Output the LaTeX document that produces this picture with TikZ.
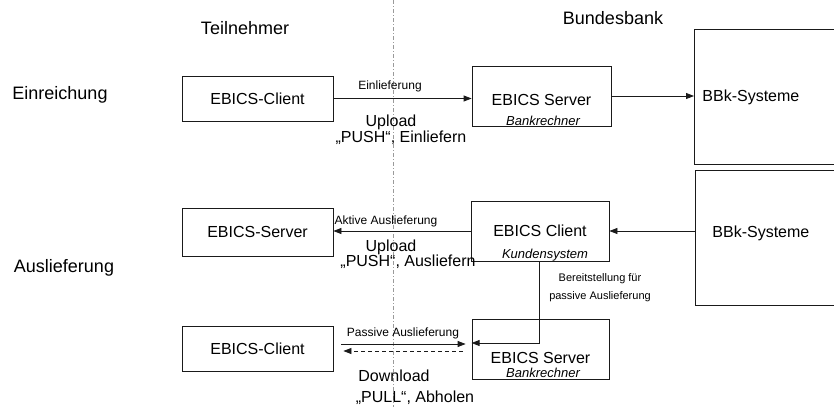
\documentclass[tikz,border=0pt]{standalone}
\usepackage{fontspec}
\setmainfont{Liberation Sans}
\usetikzlibrary{arrows.meta}

\definecolor{Sep}{HTML}{9A9A9A}
\definecolor{Edge}{HTML}{1A1A1A}

\begin{document}
\begin{tikzpicture}[x=1pt, y=-1pt,
  box/.style={draw=Edge, line width=0.8, inner sep=0pt, font=\fontsize{16}{19}\selectfont},
  sys/.style={draw=Edge, line width=0.8, anchor=north west, align=left, minimum width=150, minimum height=135, font=\fontsize{16}{19}\selectfont},
  head/.style={font=\fontsize{18}{21}\selectfont},
  mode/.style={font=\fontsize{16}{19}\selectfont},
  small/.style={font=\fontsize{12}{14}\selectfont},
  sub/.style={font=\fontsize{13}{15}\selectfont\itshape},
  flow/.style={line width=0.8, color=Edge, -{Triangle[length=8pt,width=6pt]}}]

 \useasboundingbox (0,0) rectangle (834,407);

 %%%%%%%%%% Trennlinie %%%%%%%%%%
 \coordinate (top) at (393,0);
 \coordinate (bot) at (393,407);
 \draw [color=Sep, line width=0.8, dash pattern=on 4pt off 2pt on 1pt off 2pt] (top) -- (bot) ;

 %%%%%%%%%% Titel %%%%%%%%%%
 \node [head] (teil) at (245,28) {Teilnehmer};
 \node [head] (bund) at (613,18) {Bundesbank};
 \node [head] (einr) at (60,95) {Einreichung};
 \node [head] (ausl) at (64,268) {Auslieferung};

 %%%%%%%%%% Einreichung %%%%%%%%%%
 \node [box, minimum width=151, minimum height=45] (cliA) at (257.5,98.5) {EBICS-Client};
 \node [box, minimum width=139, minimum height=60, text height=18pt, text depth=0pt] (srvA) at (541.5,96) {EBICS Server};
 \node [sub] (srvAsub) at (543,121) {Bankrechner};
 \node [sys, text width=134, inner xsep=8] (bbkA) at (694,29) {BBk-Systeme};

 \draw [flow] (cliA.east) -- (cliA.east -| srvA.west) ;
 \draw [flow] (srvA.east) -- (srvA.east -| bbkA.west) ;

 \node [small] (einl) at (390,86) {Einlieferung};
 \node [mode] (upA) at (391,122) {Upload};
 \node [mode] (pushA) at (401,138) {„PUSH“, Einliefern};

 %%%%%%%%%% Aktive Auslieferung %%%%%%%%%%
 \node [box, minimum width=151, minimum height=48] (srvM) at (257.5,232) {EBICS-Server};
 \node [box, minimum width=138, minimum height=60] (cliB) at (540,231) {EBICS Client};
 \node [sub] (cliBsub) at (545,255) {Kundensystem};
 \node [sys, text width=116, inner xsep=17, text depth=12pt] (bbkB) at (695,170) {BBk-Systeme};

 \draw [flow] (cliB.west) -- (cliB.west -| srvM.east) ;
 \draw [flow] (bbkB.west |- cliB) -- (cliB.east) ;

 \node [small] (akt) at (386,221) {Aktive Auslieferung};
 \node [mode] (upB) at (391,247) {Upload};
 \node [mode] (pushB) at (408,262) {„PUSH“, Ausliefern};

 %%%%%%%%%% Passive Auslieferung %%%%%%%%%%
 \node [box, minimum width=151, minimum height=45] (cliC) at (257.5,348.5) {EBICS-Client};
 \node [box, minimum width=137, minimum height=60, text height=29.5pt, text depth=0pt] (srvC) at (540.5,349) {EBICS Server};
 \node [sub] (srvCsub) at (543,373) {Bankrechner};

 \coordinate (bend) at (539,343);
 \draw [flow] (cliB.south -| bend) -- (bend) -- (srvC.west |- bend) ;

 \coordinate (pasA) at (400,344);
 \coordinate (pasB) at (400,351);
 \draw [flow, shorten <=8pt, shorten >=6pt] (cliC.east |- pasA) -- (srvC.west |- pasA) ;
 \draw [flow, dash pattern=on 4pt off 3pt, shorten <=9pt, shorten >=10pt] (srvC.west |- pasB) -- (cliC.east |- pasB) ;

 \node [small, font=\fontsize{11}{18}\selectfont, align=center] (bereit) at (600,288) {Bereitstellung für\\passive Auslieferung};
 \node [small] (pas) at (403,333) {Passive Auslieferung};
 \node [mode] (down) at (394,376) {Download};
 \node [mode] (pull) at (415,398) {„PULL“, Abholen};

\end{tikzpicture}
\end{document}
